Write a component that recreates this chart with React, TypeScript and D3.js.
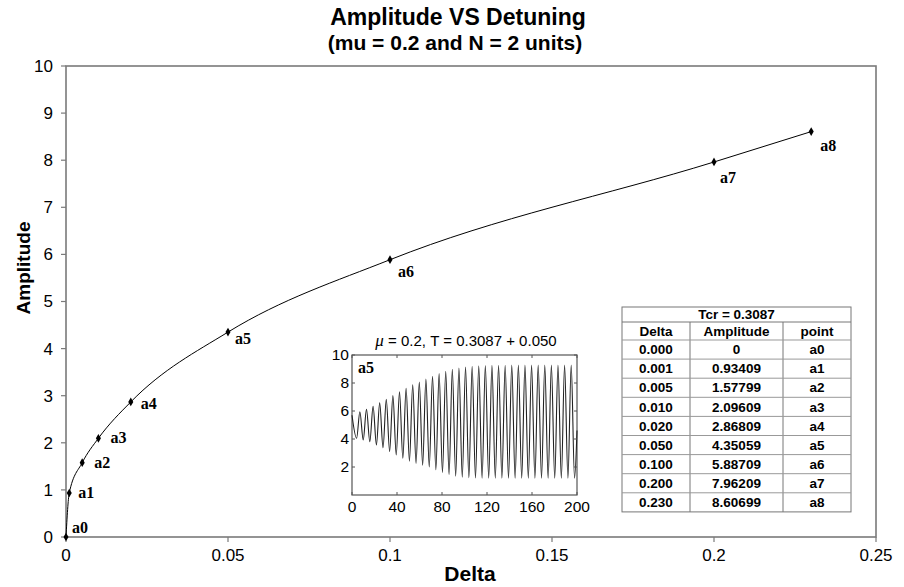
import { useEffect, useRef } from 'react'
import * as d3 from 'd3'

// main curve points (Delta, Amplitude) and labels
const deltas = [0, 0.001, 0.005, 0.01, 0.02, 0.05, 0.1, 0.2, 0.23]
const amps = [0, 0.93409, 1.57799, 2.09609, 2.86809, 4.35059, 5.88709, 7.96209, 8.60699]
const pointNames = ['a0', 'a1', 'a2', 'a3', 'a4', 'a5', 'a6', 'a7', 'a8']
// label offsets next to each marker
const labelDx = [6, 9, 12, 12, 10, 7, 8, 6, 9]
const labelDy = [-4, 5, 5, 5, 7, 12, 17, 21, 19]

const xTicks = [0, 0.05, 0.1, 0.15, 0.2, 0.25]
const xTickLabels = ['0', '0.05', '0.1', '0.15', '0.2', '0.25']
const yTicks = [0, 1, 2, 3, 4, 5, 6, 7, 8, 9, 10]

// table
const tableTitle = 'Tcr = 0.3087'
const tableHeader = ['Delta', 'Amplitude', 'point']
const tableDelta = ['0.000', '0.001', '0.005', '0.010', '0.020', '0.050', '0.100', '0.200', '0.230']
const tableAmp = ['0', '0.93409', '1.57799', '2.09609', '2.86809', '4.35059', '5.88709', '7.96209', '8.60699']

// inset: time response at a5, read peak by peak
const insetStart = [0, 5.7]
const insetFirstPeak = 7
const insetFirstTrough = 4.1
const insetPeriod = 5.87
const insetPeaks = [5.95, 6.12, 6.33, 6.58, 6.83, 7.1, 7.38, 7.63, 7.87, 8.06, 8.28, 8.48, 8.67, 8.84, 8.98, 9.07, 9.14, 9.2, 9.23, 9.25, 9.26, 9.27, 9.27, 9.28, 9.28, 9.28, 9.28, 9.28, 9.28, 9.28, 9.28, 9.28, 9.28]
const insetTroughs = [4.05, 3.93, 3.8, 3.58, 3.37, 3.1, 2.86, 2.63, 2.42, 2.26, 2.13, 2.0, 1.8, 1.6, 1.45, 1.34, 1.27, 1.23, 1.21, 1.2, 1.2, 1.2, 1.2, 1.2, 1.2, 1.2, 1.2, 1.2, 1.2, 1.2, 1.2, 1.2, 1.2, 1.2]
const insetEnd = [200, 4.6]
const insetXTicks = [0, 40, 80, 120, 160, 200]
const insetYTicks = [2, 4, 6, 8, 10]

const W = 904
const H = 587
const SANS = '"Liberation Sans", Arial, sans-serif'
const SERIF = '"Liberation Serif", "Times New Roman", serif'
const FRAME = '#7a7a7a'

export default function App() {
  const ref = useRef(null)

  useEffect(() => {
    document.body.style.margin = '0'
    const svg = d3.select(ref.current)
    svg.selectAll('*').remove()

    const x = d3.scaleLinear().domain([0, 0.25]).range([66, 876])
    const y = d3.scaleLinear().domain([0, 10]).range([537, 66])

    // titles
    svg.append('text').attr('x', 458).attr('y', 25).attr('text-anchor', 'middle')
      .style('font-family', SANS).style('font-weight', 700).style('font-size', '23px')
      .text('Amplitude VS Detuning')
    svg.append('text').attr('x', 455).attr('y', 50).attr('text-anchor', 'middle')
      .style('font-family', SANS).style('font-weight', 700).style('font-size', '21px')
      .text('(mu = 0.2 and N = 2 units)')

    // frame
    svg.append('rect').attr('x', x(0)).attr('y', y(10))
      .attr('width', x(0.25) - x(0)).attr('height', y(0) - y(10))
      .attr('fill', 'none').attr('stroke', FRAME).attr('stroke-width', 1.6)

    // x ticks
    const gx = svg.append('g')
    xTicks.forEach((t, i) => {
      gx.append('line').attr('x1', x(t)).attr('x2', x(t)).attr('y1', y(0)).attr('y2', y(0) + 5)
        .attr('stroke', FRAME).attr('stroke-width', 1.2)
      gx.append('text').attr('x', x(t)).attr('y', 561).attr('text-anchor', 'middle')
        .style('font-family', SANS).style('font-size', '17px').text(xTickLabels[i])
    })
    // y ticks
    const gy = svg.append('g')
    yTicks.forEach(t => {
      gy.append('line').attr('x1', x(0) - 5).attr('x2', x(0)).attr('y1', y(t)).attr('y2', y(t))
        .attr('stroke', FRAME).attr('stroke-width', 1.2)
      gy.append('text').attr('x', 53).attr('y', y(t)).attr('dy', '0.35em').attr('text-anchor', 'end')
        .style('font-family', SANS).style('font-size', '17px').text(String(t))
    })

    // axis titles
    svg.append('text').attr('x', 470).attr('y', 581).attr('text-anchor', 'middle')
      .style('font-family', SANS).style('font-weight', 700).style('font-size', '21px').text('Delta')
    svg.append('text').attr('transform', 'translate(30,268) rotate(-90)').attr('text-anchor', 'middle')
      .style('font-family', SANS).style('font-weight', 700).style('font-size', '19px').text('Amplitude')

    // main curve
    const pts = deltas.map((d, i) => [d, amps[i]])
    const line = d3.line().x(d => x(d[0])).y(d => y(d[1])).curve(d3.curveMonotoneX)
    svg.append('path').attr('d', line(pts)).attr('fill', 'none').attr('stroke', '#000').attr('stroke-width', 1)

    const diamond = d3.symbol().type(d3.symbolDiamond).size(22)
    pts.forEach((p, i) => {
      svg.append('path').attr('d', diamond()).attr('transform', `translate(${x(p[0])},${y(p[1])})`).attr('fill', '#000')
      svg.append('text').attr('x', x(p[0]) + labelDx[i]).attr('y', y(p[1]) + labelDy[i])
        .style('font-family', SERIF).style('font-weight', 700).style('font-size', '16px').text(pointNames[i])
    })

    // inset
    const ix = d3.scaleLinear().domain([0, 200]).range([352, 577])
    const iy = d3.scaleLinear().domain([0, 10]).range([495, 355])
    const inset = svg.append('g')
    inset.append('rect').attr('x', ix(0)).attr('y', iy(10)).attr('width', ix(200) - ix(0)).attr('height', iy(0) - iy(10))
      .attr('fill', '#fff').attr('stroke', '#555').attr('stroke-width', 1.2)
    const sig = [insetStart]
    insetTroughs.forEach((tv, k) => {
      sig.push([insetFirstTrough + k * insetPeriod, tv])
      if (k < insetPeaks.length) sig.push([insetFirstPeak + k * insetPeriod, insetPeaks[k]])
    })
    sig.push(insetEnd)
    const iline = d3.line().x(d => ix(d[0])).y(d => iy(d[1])).curve(d3.curveMonotoneX)
    inset.append('path').attr('d', iline(sig)).attr('fill', 'none').attr('stroke', '#222').attr('stroke-width', 1.1)
    insetXTicks.forEach(t => {
      inset.append('line').attr('x1', ix(t)).attr('x2', ix(t)).attr('y1', iy(0)).attr('y2', iy(0) - 3).attr('stroke', '#555')
      inset.append('line').attr('x1', ix(t)).attr('x2', ix(t)).attr('y1', iy(10)).attr('y2', iy(10) + 3).attr('stroke', '#555')
      inset.append('text').attr('x', ix(t)).attr('y', 512).attr('text-anchor', 'middle')
        .style('font-family', SANS).style('font-size', '15.5px').text(String(t))
    })
    insetYTicks.forEach(t => {
      inset.append('line').attr('x1', ix(0)).attr('x2', ix(0) + 3).attr('y1', iy(t)).attr('y2', iy(t)).attr('stroke', '#555')
      inset.append('line').attr('x1', ix(200)).attr('x2', ix(200) - 3).attr('y1', iy(t)).attr('y2', iy(t)).attr('stroke', '#555')
      inset.append('text').attr('x', 349).attr('y', iy(t)).attr('dy', '0.35em').attr('text-anchor', 'end')
        .style('font-family', SANS).style('font-size', '15.5px').text(String(t))
    })
    const it = inset.append('text').attr('x', 466).attr('y', 346).attr('text-anchor', 'middle')
      .style('font-family', SANS).style('font-size', '15px')
    it.append('tspan').style('font-family', SERIF).style('font-style', 'italic').style('font-size', '17px').text('\u03bc')
    it.append('tspan').text(' = 0.2,  T = 0.3087 + 0.050')
    inset.append('text').attr('x', 358).attr('y', 373)
      .style('font-family', SERIF).style('font-weight', 700).style('font-size', '16px').text('a5')

    // table
    const tx = [622, 690, 783, 851]
    const ty0 = 307
    const rowTitle = 15
    const rowHead = 18
    const rowH = 19.1
    const tb = svg.append('g').style('font-family', SANS).style('font-weight', 700).style('font-size', '13.5px')
    const tBottom = ty0 + rowTitle + rowHead + rowH * tableDelta.length
    tb.append('rect').attr('x', tx[0]).attr('y', ty0).attr('width', tx[3] - tx[0]).attr('height', tBottom - ty0)
      .attr('fill', '#fff').attr('stroke', '#777').attr('stroke-width', 1)
    tb.append('text').attr('x', (tx[0] + tx[3]) / 2).attr('y', ty0 + rowTitle / 2).attr('dy', '0.35em')
      .attr('text-anchor', 'middle').text(tableTitle)
    const hy = ty0 + rowTitle
    tb.append('line').attr('x1', tx[0]).attr('x2', tx[3]).attr('y1', hy).attr('y2', hy).attr('stroke', '#777')
    ;[tx[1], tx[2]].forEach(cx => {
      tb.append('line').attr('x1', cx).attr('x2', cx).attr('y1', hy).attr('y2', tBottom).attr('stroke', '#777')
    })
    tableHeader.forEach((h, c) => {
      tb.append('text').attr('x', (tx[c] + tx[c + 1]) / 2).attr('y', hy + rowHead / 2).attr('dy', '0.35em')
        .attr('text-anchor', 'middle').text(h)
    })
    tableDelta.forEach((d, r) => {
      const ry = hy + rowHead + r * rowH
      tb.append('line').attr('x1', tx[0]).attr('x2', tx[3]).attr('y1', ry).attr('y2', ry).attr('stroke', '#999')
      ;[d, tableAmp[r], pointNames[r]].forEach((v, c) => {
        tb.append('text').attr('x', (tx[c] + tx[c + 1]) / 2).attr('y', ry + rowH / 2).attr('dy', '0.35em')
          .attr('text-anchor', 'middle').text(v)
      })
    })
  }, [])

  return <svg ref={ref} width={W} height={H} style={{ display: 'block', background: '#fff' }} />
}
